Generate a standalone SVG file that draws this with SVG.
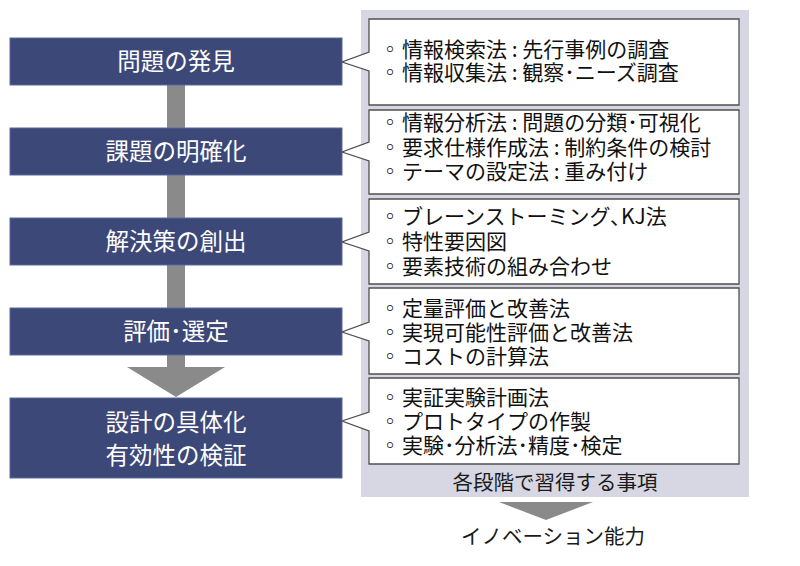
<svg xmlns="http://www.w3.org/2000/svg" width="800" height="566" viewBox="0 0 800 566">
<style>
.step{fill:#3c4878;stroke:#5b6a9c;stroke-width:1}
.st{font-family:"Noto Sans CJK JP","Liberation Sans",sans-serif;font-size:23.5px;fill:#ffffff;text-anchor:middle}
.call{fill:#ffffff;stroke:#505050;stroke-width:1.3;stroke-linejoin:miter}
.it{font-family:"Noto Sans CJK JP","Liberation Sans",sans-serif;font-size:21px;fill:#111111}
.bu{font-family:"Noto Sans CJK JP","Liberation Sans",sans-serif;font-size:20px;fill:#111111;text-anchor:middle}
.lab{font-family:"Noto Sans CJK JP","Liberation Sans",sans-serif;font-size:20.5px;fill:#1a1a1a;text-anchor:middle}
.flow{fill:#8a8a8a}
</style>
<rect id="panel" x="361" y="10" width="388" height="487" fill="#d7d7e3"/>
<g id="connectors">
<polygon class="flow" points="167,85 185,85 185,367 225,367 176,397 127,367 167,367"/>
<polygon class="flow" points="499,502 593,502 546,520"/>
</g>
<g id="step1"><rect class="step" x="10" y="38" width="332" height="47"/><text class="st" x="176" y="70">問題の発見</text></g>
<g id="step2"><rect class="step" x="10" y="128" width="332" height="47"/><text class="st" x="176" y="160">課題の明確化</text></g>
<g id="step3"><rect class="step" x="10" y="218" width="332" height="47"/><text class="st" x="176" y="250">解決策の創出</text></g>
<g id="step4"><rect class="step" x="10" y="308" width="332" height="47"/><text class="st" x="176" y="340">評価･選定</text></g>
<g id="step5"><rect class="step" x="10" y="398" width="332" height="80"/><text class="st" x="176" y="431">設計の具体化</text><text class="st" x="176" y="464">有効性の検証</text></g>
<g id="note1"><path class="call" d="M369,19 H739 V105 H369 V71 L342,62 L369,52 Z"/>
<text class="bu" x="390" y="57">◦</text><text class="it" x="402" y="57">情報検索法 : 先行事例の調査</text>
<text class="bu" x="390" y="80">◦</text><text class="it" x="402" y="80">情報収集法 : 観察･ニーズ調査</text></g>
<g id="note2"><path class="call" d="M369,110 H739 V194 H369 V161 L342,152 L369,142 Z"/>
<text class="bu" x="390" y="130">◦</text><text class="it" x="402" y="130">情報分析法 : 問題の分類･可視化</text>
<text class="bu" x="390" y="155">◦</text><text class="it" x="402" y="155">要求仕様作成法 : 制約条件の検討</text>
<text class="bu" x="390" y="179">◦</text><text class="it" x="402" y="179">テーマの設定法 : 重み付け</text></g>
<g id="note3"><path class="call" d="M369,199 H739 V284 H369 V251 L342,242 L369,232 Z"/>
<text class="bu" x="390" y="224">◦</text><text class="it" x="402" y="224">ブレーンストーミング､KJ法</text>
<text class="bu" x="390" y="249">◦</text><text class="it" x="402" y="249">特性要因図</text>
<text class="bu" x="390" y="274">◦</text><text class="it" x="402" y="274">要素技術の組み合わせ</text></g>
<g id="note4"><path class="call" d="M369,288 H739 V374 H369 V341 L342,332 L369,322 Z"/>
<text class="bu" x="390" y="316">◦</text><text class="it" x="402" y="316">定量評価と改善法</text>
<text class="bu" x="390" y="340">◦</text><text class="it" x="402" y="340">実現可能性評価と改善法</text>
<text class="bu" x="390" y="364">◦</text><text class="it" x="402" y="364">コストの計算法</text></g>
<g id="note5"><path class="call" d="M369,378 H739 V464 H369 V431 L342,421 L369,412 Z"/>
<text class="bu" x="390" y="405">◦</text><text class="it" x="402" y="405">実証実験計画法</text>
<text class="bu" x="390" y="429">◦</text><text class="it" x="402" y="429">プロトタイプの作製</text>
<text class="bu" x="390" y="453">◦</text><text class="it" x="402" y="453">実験･分析法･精度･検定</text></g>
<text id="panel-label" class="lab" x="555" y="490">各段階で習得する事項</text>
<text id="result" class="lab" x="553" y="544">イノベーション能力</text>
</svg>
